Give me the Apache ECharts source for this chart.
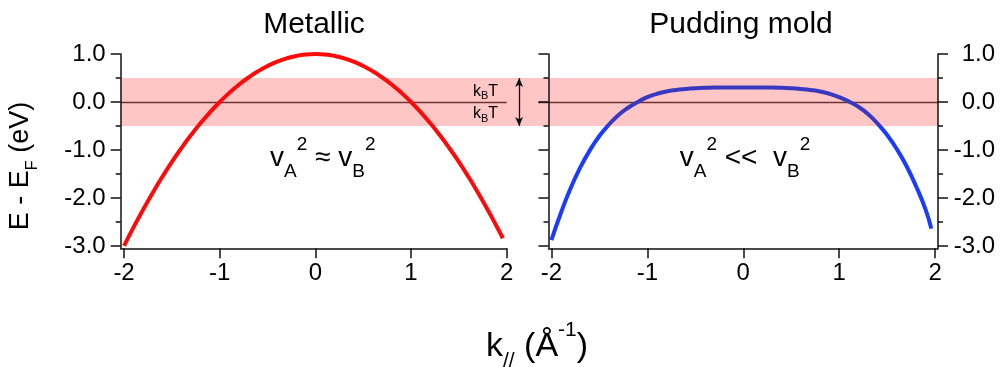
<!DOCTYPE html>
<html>
<head>
<meta charset="utf-8">
<script src="https://cdn.jsdelivr.net/npm/echarts@6/dist/echarts.min.js"></script>
<style>
  html, body { margin: 0; padding: 0; background: #fff; }
  #chart { width: 1000px; height: 367px; }
</style>
</head>
<body>
<div id="chart"></div>
<script>
// Band dispersions E(k) for the two cases (k in 1/Å, E - E_F in eV)
const metallicK = [-2.0, -1.9, -1.8, -1.7, -1.6, -1.5, -1.4, -1.3, -1.2, -1.1, -1.0,
                   -0.9, -0.8, -0.7, -0.6, -0.5, -0.4, -0.3, -0.2, -0.1, 0.0,
                   0.1, 0.2, 0.3, 0.4, 0.5, 0.6, 0.7, 0.8, 0.9, 1.0,
                   1.1, 1.2, 1.3, 1.4, 1.5, 1.6, 1.7, 1.8, 1.9, 1.96];
const metallicE = [-3.00, -2.61, -2.24, -1.89, -1.56, -1.25, -0.96, -0.69, -0.44, -0.21, 0.00,
                   0.19, 0.36, 0.51, 0.64, 0.75, 0.84, 0.91, 0.96, 0.99, 1.00,
                   0.99, 0.96, 0.91, 0.84, 0.75, 0.64, 0.51, 0.36, 0.19, 0.00,
                   -0.21, -0.44, -0.69, -0.96, -1.25, -1.56, -1.89, -2.24, -2.61, -2.84];

const puddingK = [-2.0, -1.9, -1.8, -1.7, -1.6, -1.5, -1.4, -1.3, -1.2, -1.1, -1.0,
                  -0.9, -0.8, -0.7, -0.6, -0.5, -0.4, -0.3, -0.2, -0.1, 0.0,
                  0.1, 0.2, 0.3, 0.4, 0.5, 0.6, 0.7, 0.8, 0.9, 1.0,
                  1.1, 1.2, 1.3, 1.4, 1.5, 1.6, 1.7, 1.8, 1.9, 1.96];
const puddingE = [-2.88, -2.31, -1.80, -1.37, -1.01, -0.71, -0.47, -0.27, -0.12, 0.00, 0.10,
                  0.17, 0.22, 0.25, 0.27, 0.285, 0.295, 0.30, 0.30, 0.30, 0.30,
                  0.30, 0.30, 0.30, 0.295, 0.285, 0.27, 0.25, 0.22, 0.17, 0.10,
                  0.01, -0.10, -0.25, -0.45, -0.69, -0.98, -1.33, -1.75, -2.24, -2.64];

// Axis ticks
const kTicks = [-2, -1, 0, 1, 2];
const eTicks = [-3, -2, -1, 0, 1];
const eMinorTicks = [-2.5, -1.5, -0.5, 0.5];

// Thermal window ±k_BT around E_F (eV)
const bandTop = 0.5;
const bandBottom = -0.5;

// Axis ranges
const eMin = -3.05, eMax = 1.0;
const kMinL = -2.035, kMaxL = 2.0;
const kMinR = -2.03, kMaxR = 2.03;

// Layout (pixels)
const plotTop = 54, plotHeight = 194.3;
const leftX = 120.7, leftW = 386;
const rightX = 548.5, rightW = 389.5;
const overlayW = rightX + rightW - leftX;
// overlay grid shares the left panel's k scale across both panels
const kMaxO = kMinL + overlayW / leftW * (kMaxL - kMinL);
const zeroRightStart = 2.33;   // start of the E_F line segment beside the right panel
const arrowK = 2.13;           // position of the k_BT double arrow

const FONT = 'Arial, "Liberation Sans", Helvetica, sans-serif';
const black = '#111';
const TICK_FONT = 24;

function xAxisCfg(gridIndex, min, max) {
  return {
    type: 'value', gridIndex, min, max, position: 'bottom', z: 4,
    axisLine: { show: true, onZero: false, lineStyle: { color: black, width: 1.5 } },
    axisTick: { show: true, inside: false, length: 10, customValues: kTicks,
                lineStyle: { color: black, width: 1.5 } },
    axisLabel: { show: true, customValues: kTicks, margin: 13, fontSize: TICK_FONT,
                 fontFamily: FONT, color: '#000' },
    splitLine: { show: false }
  };
}
function yAxisCfg(gridIndex, position, withLabels, minor) {
  return {
    type: 'value', gridIndex, position, min: eMin, max: eMax, z: 4,
    axisLine: { show: !minor, onZero: false, lineStyle: { color: black, width: 1.5 } },
    axisTick: { show: true, inside: false, length: minor ? 5 : 10,
                customValues: minor ? eMinorTicks : eTicks,
                lineStyle: { color: black, width: 1.5 } },
    axisLabel: { show: withLabels, customValues: eTicks,
                 margin: position === 'right' ? 57 : 15,
                 align: 'right', fontSize: TICK_FONT,
                 fontFamily: FONT, color: '#000',
                 formatter: v => Number(v).toFixed(1) },
    splitLine: { show: false }
  };
}

const chart = echarts.init(document.getElementById('chart'), null, { renderer: 'canvas' });

const richMain = {
  m: { fontSize: 28, lineHeight: 46, fontFamily: FONT, color: '#000' },
  s: { fontSize: 19, lineHeight: 30, verticalAlign: 'bottom', fontFamily: FONT, color: '#000' },
  p: { fontSize: 19, lineHeight: 28, verticalAlign: 'top', fontFamily: FONT, color: '#000' }
};
const richKbt = {
  k: { fontSize: 16, lineHeight: 20, fontFamily: FONT, color: '#222' },
  b: { fontSize: 11, lineHeight: 11, verticalAlign: 'bottom', fontFamily: FONT, color: '#222' }
};

chart.setOption({
  animation: false,
  backgroundColor: '#fff',
  grid: [
    { left: leftX, top: plotTop, width: leftW, height: plotHeight },
    { left: rightX, top: plotTop, width: rightW, height: plotHeight },
    { left: leftX, top: plotTop, width: overlayW, height: plotHeight }
  ],
  xAxis: [
    xAxisCfg(0, kMinL, kMaxL),
    xAxisCfg(1, kMinR, kMaxR),
    { type: 'value', gridIndex: 2, min: kMinL, max: kMaxO, show: false }
  ],
  yAxis: [
    yAxisCfg(0, 'left', true, false),
    yAxisCfg(0, 'left', false, true),
    yAxisCfg(1, 'left', false, false),
    yAxisCfg(1, 'left', false, true),
    yAxisCfg(1, 'right', true, false),
    yAxisCfg(1, 'right', false, true),
    { type: 'value', gridIndex: 2, min: eMin, max: eMax, show: false }
  ],
  visualMap: [{
    type: 'piecewise', show: false, seriesIndex: 1, dimension: 1,
    pieces: [
      { gt: bandBottom, lte: bandTop, color: '#3838c0' },
      { lte: bandBottom, color: '#1a3cff' },
      { gt: bandTop, color: '#1a3cff' }
    ]
  }],
  series: [
    {
      name: 'Metallic', type: 'line', xAxisIndex: 0, yAxisIndex: 0, z: 3,
      data: metallicK.map((k, i) => [k, metallicE[i]]),
      showSymbol: false, symbol: 'none', smooth: true, clip: false,
      lineStyle: { color: '#ff0a0a', width: 4 }
    },
    {
      name: 'Pudding mold', type: 'line', xAxisIndex: 1, yAxisIndex: 2, z: 3,
      data: puddingK.map((k, i) => [k, puddingE[i]]),
      showSymbol: false, symbol: 'none', smooth: true, clip: false,
      lineStyle: { width: 4 }
    },
    {
      name: 'window', type: 'line', xAxisIndex: 2, yAxisIndex: 6, z: 1, data: [],
      markArea: {
        silent: true, z: 1,
        itemStyle: { color: '#ffc6c6' },
        data: [[{ coord: [kMinL, bandTop] }, { coord: [kMaxO, bandBottom] }]]
      }
    },
    {
      name: 'fermi', type: 'line', xAxisIndex: 2, yAxisIndex: 6, z: 2, data: [],
      markLine: {
        silent: true, z: 2, symbol: 'none', label: { show: false },
        lineStyle: { color: '#6a3434', width: 1.4, type: 'solid' },
        data: [
          [{ coord: [kMinL, 0] }, { coord: [kMaxL, 0] }],
          [{ coord: [zeroRightStart, 0] }, { coord: [kMaxO, 0] }]
        ]
      }
    },
    {
      name: 'kT arrow', type: 'line', xAxisIndex: 2, yAxisIndex: 6, z: 6, data: [],
      markLine: {
        silent: true, z: 6, symbol: ['arrow', 'arrow'], symbolSize: [6, 9],
        label: { show: false },
        lineStyle: { color: '#111', width: 1.3, type: 'solid' },
        data: [[{ coord: [arrowK, bandTop] }, { coord: [arrowK, bandBottom] }]]
      }
    }
  ],
  graphic: [
    { type: 'text', x: 314, y: 24.7, z: 10,
      style: { text: 'Metallic', font: '30px ' + FONT, fill: '#000', align: 'center', verticalAlign: 'middle' } },
    { type: 'text', x: 741, y: 24.7, z: 10,
      style: { text: 'Pudding mold', font: '30px ' + FONT, fill: '#000', align: 'center', verticalAlign: 'middle' } },
    { type: 'text', x: 21, y: 166, rotation: Math.PI / 2, z: 10,
      style: { text: '{m|E - E}{s|F}{m| (eV)}', align: 'center', verticalAlign: 'middle',
               rich: {
                 m: { fontSize: 27, lineHeight: 40, fontFamily: FONT, color: '#000' },
                 s: { fontSize: 16, lineHeight: 24, verticalAlign: 'bottom', fontFamily: FONT, color: '#000' }
               } } },
    { type: 'text', x: 537, y: 346.2, z: 10,
      style: { text: '{m|k}{s|//}{m| (Å}{p|-1}{m|)}', align: 'center', verticalAlign: 'middle',
               rich: {
                 m: { fontSize: 34, lineHeight: 52, fontFamily: FONT, color: '#000' },
                 s: { fontSize: 21, lineHeight: 41, verticalAlign: 'bottom', fontFamily: FONT, color: '#000' },
                 p: { fontSize: 21, lineHeight: 31, verticalAlign: 'top', fontFamily: FONT, color: '#000' }
               } } },
    { type: 'text', x: 322.8, y: 158, z: 10,
      style: { text: '{m|v}{s|A}{p|2}{m| ≈ v}{s|B}{p|2}', align: 'center', verticalAlign: 'middle', rich: richMain } },
    { type: 'text', x: 745, y: 158, z: 10,
      style: { text: '{m|v}{s|A}{p|2}{m| <<  v}{s|B}{p|2}', align: 'center', verticalAlign: 'middle', rich: richMain } },
    { type: 'text', x: 485.5, y: 91.7, z: 10,
      style: { text: '{k|k}{b|B}{k|T}', align: 'center', verticalAlign: 'middle', rich: richKbt } },
    { type: 'text', x: 485.5, y: 114, z: 10,
      style: { text: '{k|k}{b|B}{k|T}', align: 'center', verticalAlign: 'middle', rich: richKbt } }
  ]
});
</script>
</body>
</html>
